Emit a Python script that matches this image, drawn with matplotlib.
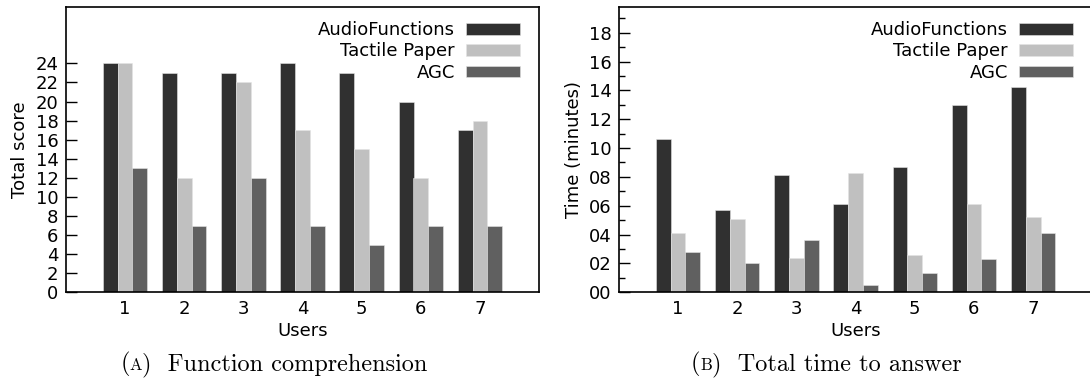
import matplotlib
matplotlib.use("Agg")
import matplotlib.pyplot as plt
from matplotlib.offsetbox import TextArea, HPacker, AnchoredOffsetbox
import numpy as np

users = [1, 2, 3, 4, 5, 6, 7]
series = ["AudioFunctions", "Tactile Paper", "AGC"]
colors = ["#303030", "#c0c0c0", "#606060"]

# (a) total score
score_audio = [24, 23, 23, 24, 23, 20, 17]
score_tactile = [24, 12, 22, 17, 15, 12, 18]
score_agc = [13, 7, 12, 7, 5, 7, 7]

# (b) time to answer, minutes
time_audio = [10.6, 5.7, 8.1, 6.1, 8.7, 13.0, 14.25]
time_tactile = [4.1, 5.05, 2.35, 8.25, 2.6, 6.15, 5.2]
time_agc = [2.8, 2.05, 3.65, 0.5, 1.35, 2.3, 4.1]

plt.rcParams["font.family"] = "DejaVu Sans"
plt.rcParams["font.size"] = 13

fig = plt.figure(figsize=(10.9, 3.82), dpi=100)
W, H = 1090, 382

def box(x0, y0, x1, y1):
    return [x0 / W, 1 - y1 / H, (x1 - x0) / W, (y1 - y0) / H]

ax1 = fig.add_axes(box(65.7, 6.7, 539.3, 292.3))
ax2 = fig.add_axes(box(618.7, 6.7, 1092.3, 292.3))

width = 0.25
x = np.array(users)

def bars(ax, vals):
    for k, (v, c, lab) in enumerate(zip(vals, colors, series)):
        ax.bar(x + (k - 1) * width, v, width, color=c, label=lab,
               edgecolor="#e4e4e4", linewidth=0.4)
    ax.set_xlim(0, 8)
    ax.set_xticks(users)
    ax.tick_params(axis="x", length=0, pad=5.5)
    ax.tick_params(axis="y", direction="in", length=8, width=1, pad=5.2)
    ax.tick_params(axis="y", which="minor", direction="in", length=4.2, width=1)
    for s in ax.spines.values():
        s.set_linewidth(1.2)
    ax.set_xlabel("Users", labelpad=3)
    ax.legend(loc="upper right", bbox_to_anchor=(0.959, 0.95), frameon=False,
              markerfirst=False, handlelength=3.0, handleheight=0.63,
              handletextpad=0.6, labelspacing=0.19, borderaxespad=0,
              borderpad=0)

bars(ax1, [score_audio, score_tactile, score_agc])
ax1.set_ylim(0, 29.94)
ax1.set_yticks(range(0, 25, 2))
ax1.set_ylabel("Total score", labelpad=5)

bars(ax2, [time_audio, time_tactile, time_agc])
ax2.set_ylim(0, 19.8)
ax2.set_yticks(range(0, 19, 2))
ax2.set_yticklabels(["%02d" % v for v in range(0, 19, 2)])
ax2.set_yticks(range(1, 20, 2), minor=True)
ax2.set_ylabel("Time (minutes)", labelpad=4)

def caption(letter, text, xc):
    kw = dict(family="cmr10", size=17.5)
    parts = [TextArea("(", textprops=kw),
             TextArea(letter, textprops=dict(family="cmr10", size=12)),
             TextArea(")  " + text, textprops=kw)]
    pack = HPacker(children=parts, align="baseline", pad=0, sep=0)
    ab = AnchoredOffsetbox(loc="center", child=pack, frameon=False, pad=0,
                           bbox_to_anchor=(xc / W, 1 - 364 / H),
                           bbox_transform=fig.transFigure, borderpad=0)
    fig.add_artist(ab)

caption("A", "Function comprehension", 274)
caption("B", "Total time to answer", 826)

fig.savefig("out.png", dpi=100)
